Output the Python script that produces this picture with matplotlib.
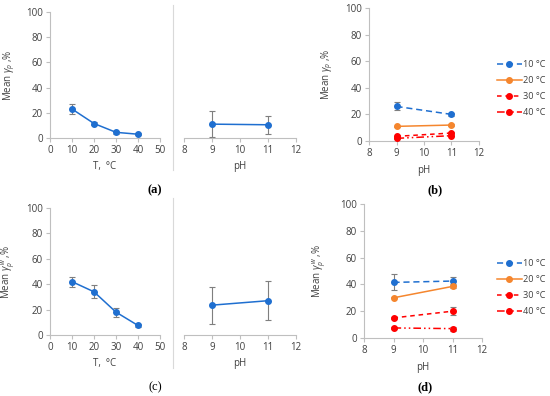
"""
Mean gamma_p vs temperature and pH, four panels (a)-(d).
Saves out.png (550x396).
"""
import matplotlib
matplotlib.use("Agg")
import matplotlib.pyplot as plt
from matplotlib.lines import Line2D

plt.rcParams.update({
    "font.family": ["Open Sans", "DejaVu Sans"],
    "font.size": 7,
    "mathtext.fontset": "custom",
    "mathtext.rm": "Open Sans",
    "mathtext.it": "Open Sans:italic",
    "text.color": "#404040",
    "axes.labelcolor": "#404040",
    "xtick.color": "#404040",
    "ytick.color": "#404040",
})

# ---- data ----
temps = [10, 20, 30, 40]
ph = [9, 11]

a_temp = [23, 11.5, 4.5, 3]
a_temp_err = [4, 1, 1, 0.6]
a_ph = [11, 10.5]
a_ph_err = [10.5, 7]

b_labels = ["10 °C", "20 °C", "30 °C", "40 °C"]
b_vals = [[26, 20], [11, 12], [3.5, 6], [2, 4]]
b_err = [[3, 1], [0.5, 0.5], [0.5, 1], [0.5, 0.5]]

c_temp = [42, 34, 18, 7.5]
c_temp_err = [4, 5, 3.5, 1]
c_ph = [23.5, 27]
c_ph_err = [14.5, 15.5]

d_vals = [[41.5, 42.5], [30, 38.5], [15, 20], [7.5, 7]]
d_err = [[6, 3], [0.5, 1.5], [0.5, 3], [0.5, 1.5]]

BLUE = "#1F6FD0"
ORANGE = "#F5862E"
RED = "#FF0000"
GRID = "#BFBFBF"
ERR = "#7F7F7F"
styles = [(BLUE, (0, (4, 2.5))), (ORANGE, "-"), (RED, (0, (3, 2.5))),
          (RED, (0, (5, 2, 1, 2, 1, 2)))]

W, H = 550, 396
fig = plt.figure(figsize=(W / 100, H / 100), dpi=100)


def box(x0, y0, x1, y1):
    # pixel box (top-left origin) -> figure fraction rect
    return [x0 / W, 1 - y1 / H, (x1 - x0) / W, (y1 - y0) / H]


def style_ax(ax, yaxis=True):
    for s in ("top", "right"):
        ax.spines[s].set_visible(False)
    ax.spines["bottom"].set_color(GRID)
    ax.spines["left"].set_color(GRID)
    ax.spines["left"].set_visible(yaxis)
    ax.tick_params(length=3, width=0.8, color=GRID, pad=2)
    ax.set_ylim(0, 100)
    ax.set_yticks(range(0, 101, 20))
    if not yaxis:
        ax.tick_params(axis="y", left=False, labelleft=False)


def plot_err(ax, x, y, e, color, ls="-"):
    ax.errorbar(x, y, yerr=e, color=color, ls=ls, lw=1.1, marker="o", ms=4,
                ecolor=ERR, elinewidth=0.8, capsize=2, capthick=0.8, zorder=3)


def temp_ph_pair(y0, y1, temp_v, temp_e, ph_v, ph_e, ylabel):
    ax1 = fig.add_axes(box(50, y0, 160, y1))
    style_ax(ax1)
    plot_err(ax1, temps, temp_v, temp_e, BLUE)
    ax1.set_xlim(0, 50)
    ax1.set_xticks(range(0, 51, 10))
    ax1.set_xlabel("T,  °C")
    ax1.xaxis.set_label_coords(0.5, -0.18)
    ax1.set_ylabel(ylabel)
    ax1.yaxis.set_label_coords(-0.30, 0.5)

    ax2 = fig.add_axes(box(184, y0, 296, y1))
    style_ax(ax2, yaxis=False)
    plot_err(ax2, ph, ph_v, ph_e, BLUE)
    ax2.set_xlim(8, 12)
    ax2.set_xticks(range(8, 13))
    ax2.set_xlabel("pH")
    ax2.xaxis.set_label_coords(0.5, -0.18)
    return ax1, ax2


def ph_series(box_px, vals, errs, ylabel, leg_y):
    ax = fig.add_axes(box(*box_px))
    style_ax(ax)
    handles = []
    for (c, ls), v, e in zip(styles, vals, errs):
        plot_err(ax, ph, v, e, c, ls)
        handles.append(Line2D([], [], color=c, ls=ls, lw=1.1, marker="o", ms=4))
    ax.set_xlim(8, 12)
    ax.set_xticks(range(8, 13))
    ax.set_xlabel("pH")
    ax.xaxis.set_label_coords(0.5, -0.18)
    ax.set_ylabel(ylabel)
    ax.yaxis.set_label_coords(-0.305, 0.5)
    fig.legend(handles, b_labels, loc="upper left", frameon=False,
               bbox_to_anchor=(497 / W, 1 - leg_y / H), handlelength=2.7,
               handletextpad=0.1, labelspacing=0.78, borderaxespad=0,
               borderpad=0, fontsize=6.6)
    return ax


lab_a = r"Mean $\gamma_p$ ,%"
lab_c = r"Mean $\gamma_p^{\,w}$ ,%"

temp_ph_pair(12, 138, a_temp, a_temp_err, a_ph, a_ph_err, lab_a)
temp_ph_pair(208, 335, c_temp, c_temp_err, c_ph, c_ph_err, lab_c)
ph_series((369, 8, 479, 141), b_vals, b_err, lab_a, 60)
ph_series((364, 204, 482, 338), d_vals, d_err, lab_c, 259)

# vertical separators between the T and pH plots
for y0, y1 in ((5, 170), (198, 368)):
    fig.add_artist(Line2D([173 / W, 173 / W], [1 - y0 / H, 1 - y1 / H],
                          color="#D9D9D9", lw=0.8))

for lab, x, y, wgt in (("(a)", 155, 190, "bold"), ("(b)", 435, 190, "bold"),
                       ("(c)", 155, 387, "normal"), ("(d)", 425, 387, "bold")):
    fig.text(x / W, 1 - y / H, lab, ha="center", va="center",
             family="Liberation Serif", fontsize=9, weight=wgt, color="black")

fig.savefig("out.png", dpi=100)
